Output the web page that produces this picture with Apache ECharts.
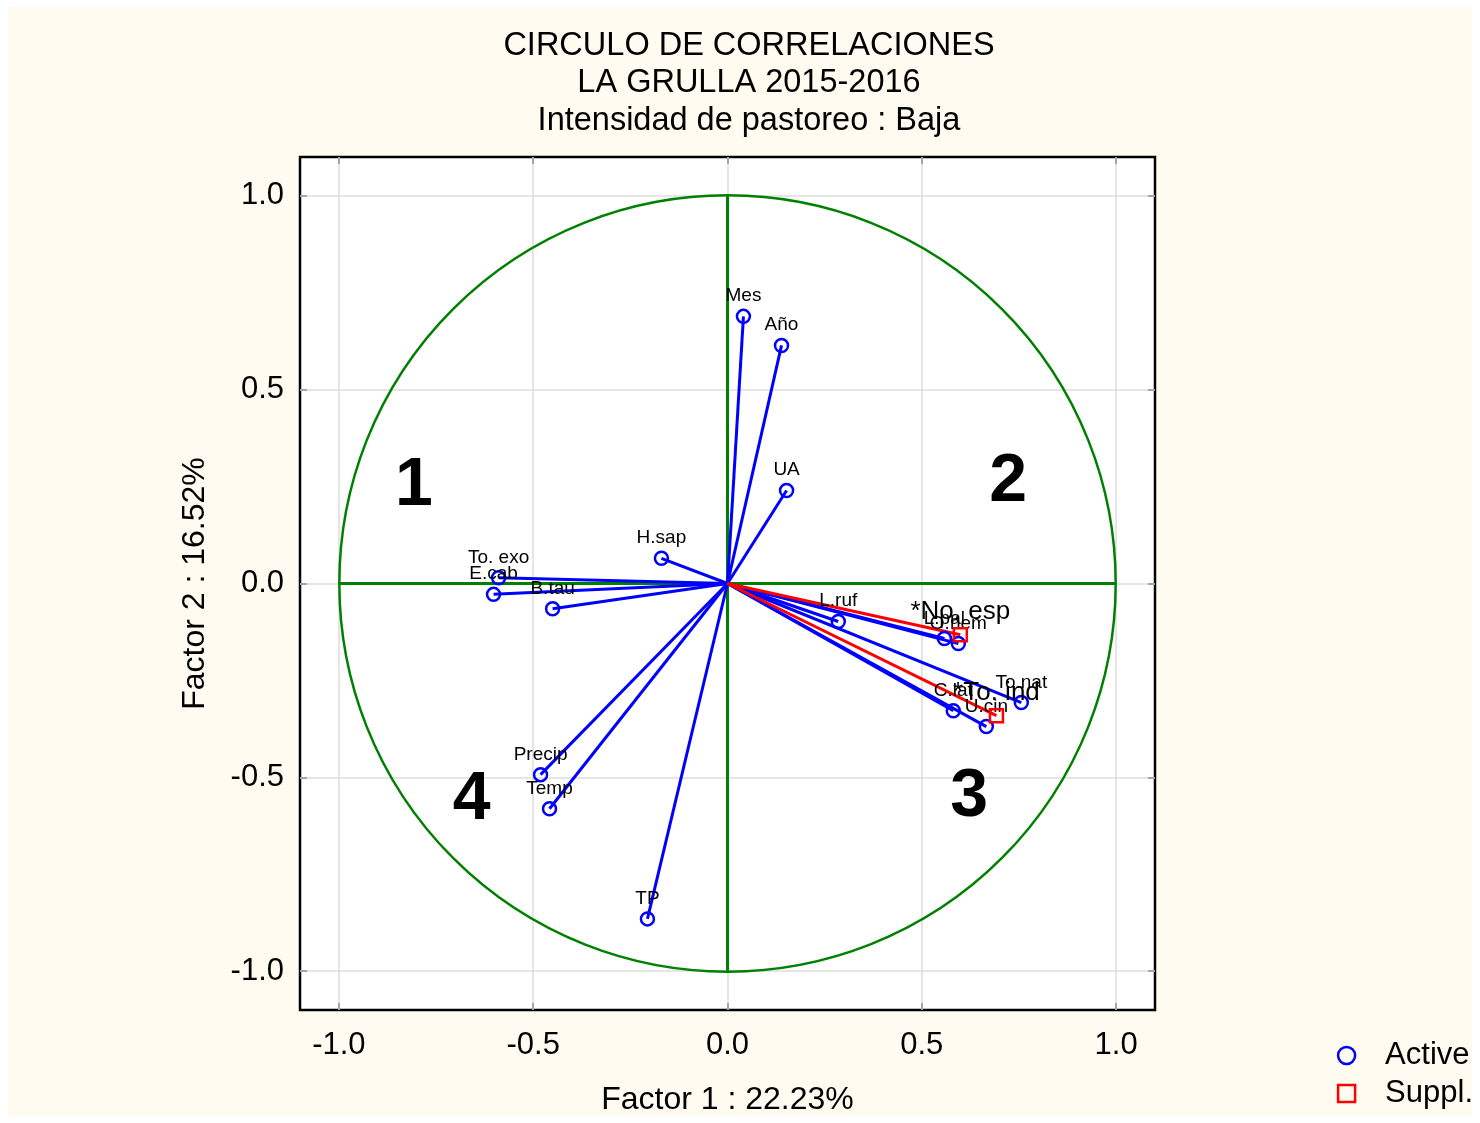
<!DOCTYPE html>
<html><head><meta charset="utf-8">
<script src="https://cdn.jsdelivr.net/npm/echarts@6/dist/echarts.min.js"></script>
<style>html,body{margin:0;padding:0;background:#fff;}#c{width:1480px;height:1123px;}</style>
</head><body><div id="c"></div>
<script>
// Active variables
const activeNames = ['Mes','Año','UA','H.sap','To. exo','E.cab','B.tau','L.ruf','L.pal','O.hem','To.nat','C.lat','U.cin','Precip','Temp','TP'];
const activeX = [0.041, 0.139, 0.152, -0.170, -0.589, -0.602, -0.450, 0.285, 0.558, 0.594, 0.756, 0.581, 0.666, -0.481, -0.458, -0.206];
const activeY = [0.689, 0.614, 0.240, 0.065, 0.015, -0.028, -0.065, -0.098, -0.142, -0.155, -0.307, -0.328, -0.369, -0.493, -0.581, -0.865];
// Supplementary variables
const supplNames = ['*No. esp','*To. ind'];
const supplX = [0.599, 0.692];
const supplY = [-0.132, -0.341];
// Quadrant labels
const quadNames = ['1','2','3','4'];
const quadX = [-0.807, 0.722, 0.622, -0.658];
const quadY = [0.25, 0.261, -0.55, -0.558];
// Axis ticks
const tickValues = [-1.0, -0.5, 0.0, 0.5, 1.0];
const axisMin = -1.1, axisMax = 1.1;

const FONT = '"Liberation Sans", Arial, sans-serif';
const chart = echarts.init(document.getElementById('c'), null, {renderer:'canvas'});

function axisCommon(pos, showLabel){
  return {
    type:'value', min:axisMin, max:axisMax, position:pos,
    axisLine:{show:false, onZero:false},
    axisTick:{show:true, inside:true, length:7, lineStyle:{color:'#000', width:2}, customValues: tickValues},
    axisLabel:{show:showLabel, customValues: tickValues, formatter: v => v.toFixed(1),
      color:'#000', fontSize:31, fontFamily:FONT, margin:(pos==='bottom'?20:16)},
    splitLine:{show:false},
    minorTick:{show:false}
  };
}
const xAxes = [
  Object.assign(axisCommon('bottom', true), {name:'Factor 1 : 22.23%', nameLocation:'middle', nameGap:74,
    nameTextStyle:{color:'#000', fontSize:32, fontFamily:FONT}}),
  axisCommon('top', false)
];
const yAxes = [
  Object.assign(axisCommon('left', true), {name:'Factor 2 : 16.52%', nameLocation:'middle', nameGap:89,
    nameTextStyle:{color:'#000', fontSize:32, fontFamily:FONT}}),
  axisCommon('right', false)
];

// grid lines at tick values (drawn through the axes)
const gridLines = [];
tickValues.forEach(v => {
  gridLines.push({coords:[[v,axisMin],[v,axisMax]]});
  gridLines.push({coords:[[axisMin,v],[axisMax,v]]});
});

const activeLines = activeX.map((x,i)=>({coords:[[0,0],[x,activeY[i]]]}));
const supplLines = supplX.map((x,i)=>({coords:[[0,0],[x,supplY[i]]]}));

const option = {
  backgroundColor:'#FFFFFF',
  animation:false,
  graphic:[{type:'rect', shape:{x:8,y:7,width:1464,height:1109}, style:{fill:'#FFFBF0'}, z:-10, silent:true}],
  title:{text:'CIRCULO DE CORRELACIONES\nLA GRULLA 2015-2016\nIntensidad de pastoreo : Baja', left:744, textAlign:'center', top:22,
    textStyle:{fontSize:32.5, fontWeight:'normal', color:'#000', fontFamily:FONT, lineHeight:37.5}},
  grid:{left:300, right:325, top:157, bottom:113, show:true, backgroundColor:'#FFFFFF', borderColor:'#000', borderWidth:2.5},
  xAxis: xAxes,
  yAxis: yAxes,
  legend:{orient:'vertical', right:2, bottom:9, itemGap:7, itemWidth:17, itemHeight:17,
    textStyle:{fontSize:31, color:'#000', fontFamily:FONT, padding:[0,0,0,25]},
    data:[{name:'Active', icon:'circle', itemStyle:{color:'transparent', borderColor:'#0000FF', borderWidth:2.5}},
          {name:'Suppl.', icon:'rect', itemStyle:{color:'transparent', borderColor:'#FF0000', borderWidth:2.5}}]},
  series:[
    {type:'lines', coordinateSystem:'cartesian2d', data:gridLines, silent:true, z:1,
      lineStyle:{color:'#DDDDDD', width:1.5, opacity:1}},
    {type:'custom', coordinateSystem:'cartesian2d', data:[[0,0]], silent:true, z:2,
      renderItem:function(params, api){
        const c = api.coord([0,0]);
        const r = api.size([1,1]);
        return {type:'circle', shape:{cx:c[0], cy:c[1], r:(r[0]+r[1])/2},
          style:{fill:'none', stroke:'#008000', lineWidth:2.5}};
      }},
    {type:'lines', coordinateSystem:'cartesian2d', silent:true, z:3,
      data:[{coords:[[-1,0],[1,0]]},{coords:[[0,-1],[0,1]]}],
      lineStyle:{color:'#008000', width:3, opacity:1}},
    {type:'lines', coordinateSystem:'cartesian2d', silent:true, z:4, data:activeLines,
      lineStyle:{color:'#0000FF', width:3, opacity:1}},
    {type:'lines', coordinateSystem:'cartesian2d', silent:true, z:4, data:supplLines,
      lineStyle:{color:'#FF0000', width:3, opacity:1}},
    {name:'Active', type:'scatter', z:5, symbol:'circle', symbolSize:13,
      itemStyle:{color:'transparent', borderColor:'#0000FF', borderWidth:2.5, opacity:1},
      data: activeX.map((x,i)=>({value:[x,activeY[i]], name:activeNames[i]})),
      label:{show:true, position:'top', distance:3, formatter:p=>p.name, color:'#000', fontSize:19, fontFamily:FONT}},
    {name:'Suppl.', type:'scatter', z:6, symbol:'rect', symbolSize:13,
      itemStyle:{color:'transparent', borderColor:'#FF0000', borderWidth:2.5, opacity:1},
      data: supplX.map((x,i)=>({value:[x,supplY[i]], name:supplNames[i]})),
      label:{show:true, position:'top', distance:2, formatter:p=>p.name, color:'#000', fontSize:26, fontFamily:FONT}},
    {type:'scatter', z:7, symbolSize:0, silent:true, itemStyle:{opacity:1},
      data: quadX.map((x,i)=>({value:[x,quadY[i]], name:quadNames[i]})),
      label:{show:true, position:'inside', formatter:p=>p.name, color:'#000', fontSize:68, fontWeight:'bold', fontFamily:FONT}}
  ]
};
chart.setOption(option);
</script></body></html>
